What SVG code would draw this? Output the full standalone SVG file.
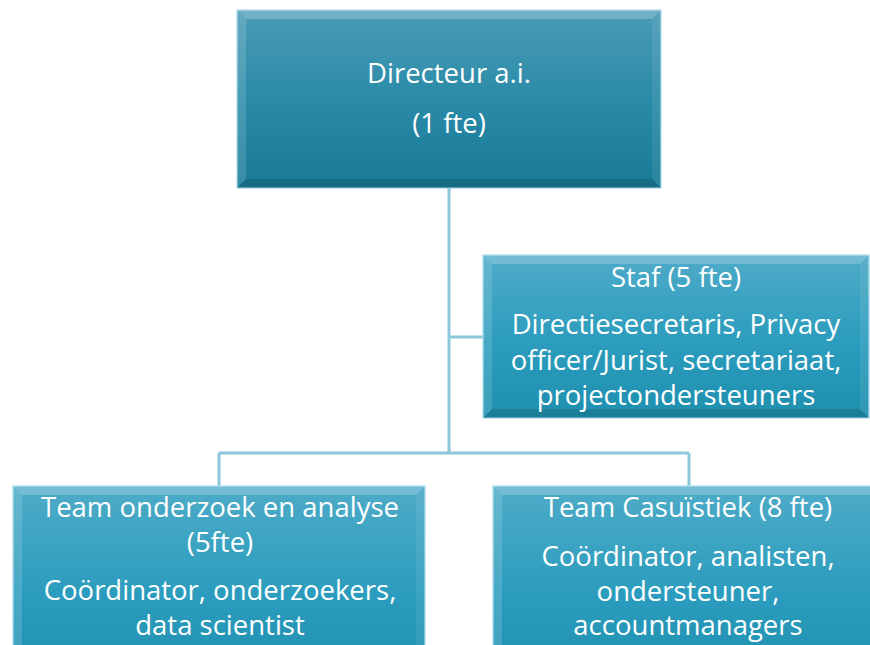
<svg xmlns="http://www.w3.org/2000/svg" width="870" height="645" viewBox="0 0 870 645">
<defs>
<linearGradient id="gTop" x1="0" y1="0" x2="0" y2="1">
<stop offset="0" stop-color="#4c9cb6"/>
<stop offset="0.5" stop-color="#2a8ba8"/>
<stop offset="1" stop-color="#187a97"/>
</linearGradient>
<linearGradient id="gSub" x1="0" y1="0" x2="0" y2="1">
<stop offset="0" stop-color="#4eabc8"/>
<stop offset="0.55" stop-color="#2b9cbd"/>
<stop offset="1" stop-color="#1e8fae"/>
</linearGradient>
<style>
.box{stroke:#a9dbe9;stroke-width:1.2}
.bt{fill:#ffffff;fill-opacity:0.22}
.bl{fill:#ffffff;fill-opacity:0.14}
.br{fill:#ffffff;fill-opacity:0.08}
.bb{fill:#000000;fill-opacity:0.12}
.conn{fill:none;stroke:#8cc8da;stroke-width:3}
text{font-family:"Open Sans","Liberation Sans",sans-serif;font-size:27.5px;fill:#ffffff;text-anchor:middle}
</style>
</defs>
<g id="connectors">
<path class="conn" d="M449,188 V453 M449,337 H483 M219,453 H689 M219,453 V486 M689,453 V486"/>
</g>
<g id="directeur">
<rect class="box" x="237" y="10" width="424" height="178" fill="url(#gTop)"/>
<polygon class="bt" points="237,10 661,10 652,19 246,19"/>
<polygon class="bl" points="237,10 246,19 246,179 237,188"/>
<polygon class="br" points="661,10 661,188 652,179 652,19"/>
<polygon class="bb" points="237,188 246,179 652,179 661,188"/>
<text x="449" y="83">Directeur a.i.</text>
<text x="449" y="133">(1 fte)</text>
</g>
<g id="staf">
<rect class="box" x="483" y="255" width="386" height="163" fill="url(#gSub)"/>
<polygon class="bt" points="483,255 869,255 860,264 492,264"/>
<polygon class="bl" points="483,255 492,264 492,409 483,418"/>
<polygon class="br" points="869,255 869,418 860,409 860,264"/>
<polygon class="bb" points="483,418 492,409 860,409 869,418"/>
<text x="676" y="287">Staf (5 fte)</text>
<text x="676" y="334">Directiesecretaris, Privacy</text>
<text x="676" y="370">officer/Jurist, secretariaat,</text>
<text x="676" y="405">projectondersteuners</text>
</g>
<g id="team-onderzoek">
<rect class="box" x="13" y="486" width="412" height="200" fill="url(#gSub)"/>
<polygon class="bt" points="13,486 425,486 416,495 22,495"/>
<polygon class="bl" points="13,486 22,495 22,677 13,686"/>
<polygon class="br" points="425,486 425,686 416,677 416,495"/>
<text x="220" y="517">Team onderzoek en analyse</text>
<text x="220" y="552">(5fte)</text>
<text x="220" y="600">Coördinator, onderzoekers,</text>
<text x="220" y="635">data scientist</text>
</g>
<g id="team-casuistiek">
<rect class="box" x="493" y="486" width="412" height="200" fill="url(#gSub)"/>
<polygon class="bt" points="493,486 905,486 896,495 502,495"/>
<polygon class="bl" points="493,486 502,495 502,677 493,686"/>
<text x="688" y="517">Team Casuïstiek (8 fte)</text>
<text x="688" y="566">Coördinator, analisten,</text>
<text x="688" y="601">ondersteuner,</text>
<text x="688" y="635">accountmanagers</text>
</g>
</svg>
